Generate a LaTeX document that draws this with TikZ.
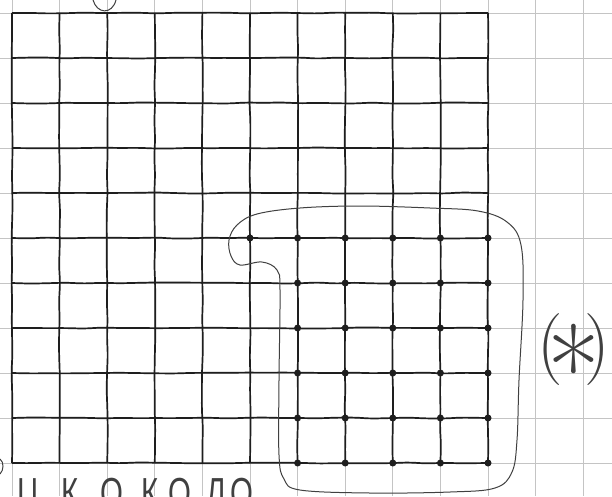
\documentclass[tikz,border=0pt]{standalone}
\usepackage{fontspec}
\newfontfamily\handfont{Liberation Sans}
\usetikzlibrary{decorations.pathmorphing}
\definecolor{Ink}{HTML}{1E1E1E}
\definecolor{Paper}{HTML}{C4C4C4}
\definecolor{White}{HTML}{FFFFFF}
\tikzset{
    paperline/.style={line width=0.9pt, color=Paper},
    inkline/.style={line width=1.7pt, color=Ink, decorate, decoration={random steps, segment length=18pt, amplitude=0.6pt}, rounded corners=6pt},
    inkdot/.style={fill=Ink},
    loopline/.style={line width=1pt, color=Ink!85},
    handtext/.style={font=\handfont\fontsize{42}{42}\selectfont, text=Ink!85, anchor=north, inner sep=0pt, xscale=0.7, transform shape},
}
\begin{document}
\begin{tikzpicture}[x=1pt, y=-1pt]
\useasboundingbox (0,0) rectangle (612,496);
\clip (0,0) rectangle (612,496);
\fill[White] (0,0) rectangle (612,496);
\pgfmathsetseed{11}
\foreach \k in {0,...,12}
    \draw[paperline] ({12+47.6*\k},0) -- ({12+47.6*\k},496);
\foreach \k in {0,...,10}
    \draw[paperline] (0,{13+45*\k}) -- (612,{13+45*\k});
\foreach \k in {0,...,10} {
    \draw[inkline] ({12+47.6*\k},13) -- ({12+47.6*\k},463);
    \draw[inkline] (12,{13+45*\k}) -- (488,{13+45*\k});
}
\foreach \i in {5,...,10}
    \fill[inkdot] ({12+47.6*\i},238) circle (3.5pt);
\foreach \j in {6,...,10}
    \foreach \i in {6,...,10}
        \fill[inkdot] ({12+47.6*\i},{13+45*\j}) circle (3.5pt);
\draw[loopline] plot[smooth cycle, tension=0.6] coordinates {
    (257,214) (300,208) (360,206) (430,208) (478,211) (507,222) (521,245)
    (523,300) (519,380) (517,440) (512,472) (495,488) (450,492) (370,493)
    (300,490) (284,479) (279,455) (279,380) (280,290) (277,270) (262,262)
    (240,265) (231,256) (229,240) (237,225)};
\draw[loopline] (93,0) .. controls (97,14) and (112,15) .. (116,0);
\draw[loopline] (0,459) .. controls (4,462) and (4,470) .. (0,474);
\node[font=\fontsize{72}{72}\selectfont, text=Ink!85, inner sep=0pt] (mark) at (574,362)
    {(\kern-0.22em\raisebox{-0.6em}{\scalebox{1.6}{*}}\kern-0.22em)};
\foreach \ch/\x in {Ц/28, К/70, О/112, К/150, О/180, Л/216, О/242}
    \node[handtext] (letter\x) at (\x,478) {\ch};
\end{tikzpicture}
\end{document}
